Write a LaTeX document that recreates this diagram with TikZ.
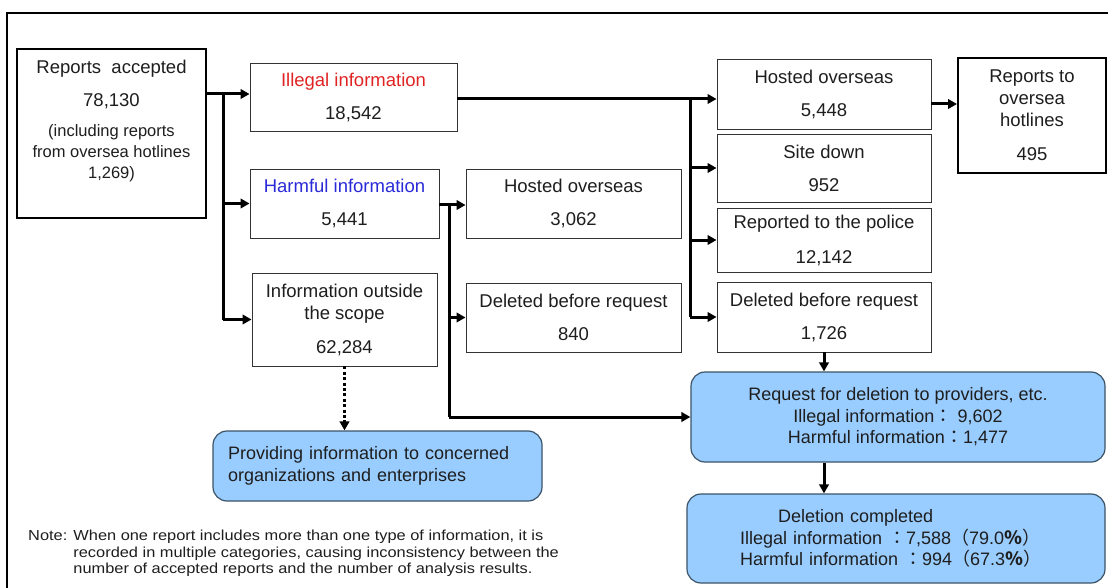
\documentclass[tikz,border=0pt]{standalone}
\usepackage{fontspec}
\setmainfont{Liberation Sans}
\newfontfamily\cjk{Noto Sans CJK JP}
\newfontfamily\notefont[FakeStretch=1.13]{Liberation Sans}
\usetikzlibrary{arrows.meta}
\definecolor{txt}{HTML}{1E1E1E}
\definecolor{illred}{HTML}{E02424}
\definecolor{harmblue}{HTML}{2A2AD8}
\definecolor{bluefill}{HTML}{99CCFF}
\definecolor{blueedge}{HTML}{3C5468}
\begin{document}
\begin{tikzpicture}[x=1pt,y=-1pt,
  every node/.style={text=txt},
  plain/.style={draw=black!80, line width=0.9pt, inner sep=0pt, align=center, font=\fontsize{18.5}{33}\selectfont},
  heavy/.style={draw=black, line width=2pt, inner sep=0pt, align=center},
  soft/.style={draw=blueedge, fill=bluefill, line width=1.2pt, rounded corners=14pt, inner sep=0pt, font=\fontsize{18}{21.5}\selectfont},
  conn/.style={line width=3pt, -{Triangle[length=9pt,width=9.5pt]}},
  bar/.style={line width=3pt},
  dotconn/.style={line width=3pt, dash pattern=on 3pt off 2.4pt, -{Triangle[length=9pt,width=9.5pt]}},
]
\useasboundingbox (0,0) rectangle (1108,588);
\fill[white] (0,0) rectangle (1108,588);
\draw[line width=1.6pt] (7,588) -- (7,13) -- (1108,13);

% boxes
\node[heavy, minimum width=189, minimum height=169] (acc) at (111.5,133.5) {};
\node[align=center, font=\fontsize{18.5}{33}\selectfont] (acct) at (111.5,84.5) {Reports\ \ accepted\\78,130};
\node[align=center, font=\fontsize{16.5}{21}\selectfont] (accs) at (111.5,153) {(including reports\\from oversea hotlines\\1,269)};

\node[plain, minimum width=207, minimum height=68] (ill) at (353.5,97) {\textcolor{illred}{Illegal information}\\18,542};
\node[plain, minimum width=189, minimum height=69] (harm) at (344.5,203.5) {\textcolor{harmblue}{Harmful information}\\5,441};
\node[plain, minimum width=185, minimum height=93, font=\fontsize{18.5}{22}\selectfont] (out) at (344.5,319.5) {Information outside\\the scope\\[12pt]62,284};

\node[plain, minimum width=215, minimum height=69] (hostA) at (573.5,203.5) {Hosted overseas\\3,062};
\node[plain, minimum width=215, minimum height=69] (delA) at (573.5,317.5) {Deleted before request\\840};

\node[plain, minimum width=214, minimum height=70] (hostB) at (824,94) {Hosted overseas\\5,448};
\node[plain, minimum width=214, minimum height=68] (site) at (824,168) {Site down\\952};
\node[plain, minimum width=214, minimum height=64, font=\fontsize{18.5}{35}\selectfont] (police) at (824,240) {Reported to the police\\12,142};
\node[plain, minimum width=214, minimum height=70] (delB) at (824,317) {Deleted before request\\1,726};

\node[heavy, minimum width=148, minimum height=115, font=\fontsize{18.5}{22}\selectfont] (hot) at (1032,115.5) {Reports to\\oversea\\hotlines\\[12pt]495};

\node[soft, minimum width=414, minimum height=90, align=center] (req) at (898,417) {Request for deletion to providers, etc.\\Illegal information{\cjk ：} 9,602\\Harmful information{\cjk ：}1,477};
\node[soft, minimum width=418, minimum height=89, text width=312pt, align=left] (done) at (896,538.5) {\hspace*{38pt}Deletion completed\\Illegal information {\cjk ：}7,588{\cjk （}79.0{\cjk\bfseries ％}{\cjk ）}\\Harmful information {\cjk ：}994{\cjk （}67.3{\cjk\bfseries ％}{\cjk ）}};
\node[soft, minimum width=329, minimum height=70, text width=299pt, align=left, font=\fontsize{18}{22}\selectfont] (prov) at (377.5,466) {Providing information to concerned\\organizations and enterprises};

\node[anchor=west, inner sep=0pt, font=\notefont\fontsize{14.5}{16.3}\selectfont] (note) at (28,554) {\begin{tabular}{@{}l@{ }l@{}}Note: & When one report includes more than one type of information, it is\\ & recorded in multiple categories, causing inconsistency between the\\ & number of accepted reports and the number of analysis results.\end{tabular}};

% connectors
\coordinate (t1) at (223,94);
\coordinate (t2) at (690,99);
\coordinate (t3) at (449,205);
\coordinate (hy) at (945,104);
\draw[bar] (acc.east |- t1) -- (t1) -- (t1 |- out.west);
\draw[conn] (t1) -- (ill.west |- t1);
\draw[conn] (t1 |- harm.west) -- (harm.west);
\draw[conn] (t1 |- out.west) -- (out.west);

\draw[bar] (ill.east |- t2) -- (t2) -- (t2 |- delB.west);
\draw[conn] (t2) -- (hostB.west |- t2);
\draw[conn] (t2 |- site.west) -- (site.west);
\draw[conn] (t2 |- police.west) -- (police.west);
\draw[conn] (t2 |- delB.west) -- (delB.west);

\draw[bar] (harm.east |- t3) -- (t3) -- (t3 |- req.west);
\draw[conn] (t3) -- (hostA.west |- t3);
\draw[conn] (t3 |- delA.west) -- (delA.west);
\draw[conn] (t3 |- req.west) -- (req.west);

\draw[conn] (hostB.east |- hy) -- (hot.west |- hy);
\draw[conn] (delB.south) -- (delB.south |- req.north);
\draw[conn] (req.south -| delB.south) -- (delB.south |- done.north);
\draw[dotconn] (out.south) -- (out.south |- prov.north);
\end{tikzpicture}
\end{document}
